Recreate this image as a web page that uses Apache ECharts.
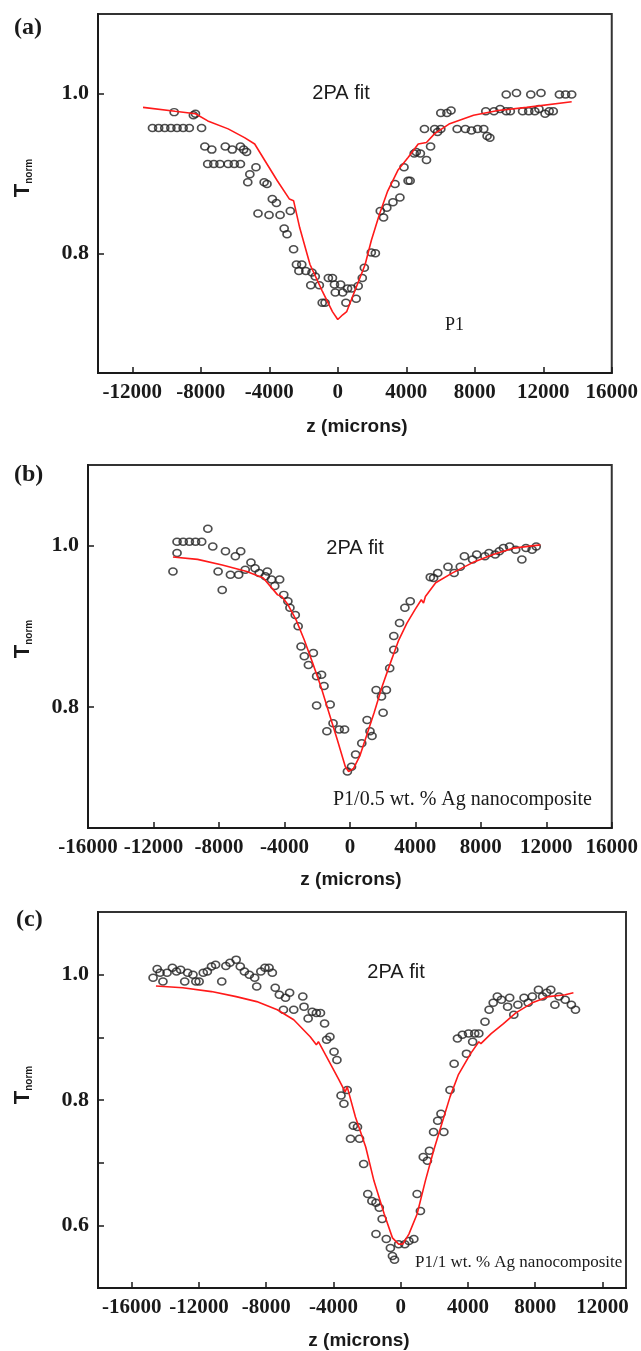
<!DOCTYPE html>
<html>
<head>
<meta charset="utf-8">
<script src="https://cdn.jsdelivr.net/npm/echarts@6/dist/echarts.min.js"></script>
<style>
html,body{margin:0;padding:0;background:#fff;}
#chart{width:641px;height:1351px;}
</style>
</head>
<body>
<div id="chart"></div>
<script>
// ---------- Panel (a): P1 ----------
const p1Points = [
[-10818,0.957],[-10459,0.957],[-10101,0.957],[-9743,0.957],[-9385,0.957],[-9027,0.957],[-8668,0.957],[-7952,0.957],
[-9552,0.977],[-8310,0.975],[-8430,0.973],
[-7761,0.934],[-7355,0.930],[-6567,0.934],[-6161,0.930],[-5683,0.934],[-5492,0.930],
[-7594,0.912],[-7236,0.912],[-6877,0.912],[-6400,0.912],[-6042,0.912],[-5683,0.912],
[-5325,0.927],[-4776,0.908],[-5134,0.899],[-5254,0.889],[-4298,0.889],[-4131,0.887],
[-3821,0.868],[-3582,0.863],[-4657,0.850],[-4012,0.848],[-3367,0.848],[-2770,0.853],
[-3128,0.831],[-2961,0.824],[-2579,0.805],[-2412,0.786],[-2101,0.786],[-2269,0.778],[-1863,0.778],
[-1504,0.776],[-1313,0.771],[-1576,0.760],[-1075,0.760],[-907,0.738],[-740,0.738],
[-549,0.769],[-310,0.769],[-191,0.761],[167,0.761],[-143,0.751],[287,0.751],[478,0.738],
[573,0.756],[812,0.756],[1075,0.743],[1194,0.759],[1433,0.769],[1552,0.782],
[1958,0.801],[2197,0.800],[2484,0.853],[2675,0.845],[2866,0.857],[3224,0.864],
[3343,0.887],[3630,0.870],[3869,0.908],[4107,0.891],[4227,0.891],[4466,0.925],[4585,0.927],[4824,0.925],
[5182,0.917],[5063,0.956],[5421,0.934],[5660,0.956],[5827,0.952],[6018,0.956],
[6018,0.976],[6376,0.976],[6615,0.979],
[6973,0.956],[7451,0.956],[7809,0.954],[8167,0.956],[8525,0.956],[8883,0.945],[8720,0.947],
[8645,0.978],[9122,0.978],[9480,0.981],[9839,0.978],[10078,0.978],
[9839,0.999],[10436,1.001],
[10794,0.978],[11152,0.978],[11510,0.978],[11749,0.981],[12107,0.975],[12346,0.978],[12585,0.978],
[11272,0.999],[11868,1.001],[12943,0.999],[13301,0.999],[13660,0.999]
];
const p1Fit = [
[-11370,0.983],[-9500,0.978],[-8310,0.975],[-7590,0.966],[-6400,0.956],[-5445,0.945],[-4850,0.937],
[-4250,0.916],[-3530,0.891],[-2820,0.868],[-2580,0.866],[-2220,0.832],[-1620,0.786],[-910,0.753],
[-310,0.727],[0,0.717],[290,0.723],[525,0.727],[1000,0.753],[1600,0.786],[1960,0.816],[2435,0.849],
[2915,0.878],[3510,0.904],[4107,0.920],[4700,0.937],[5180,0.939],[5660,0.950],[6495,0.962],
[7930,0.973],[9360,0.979],[11030,0.983],[13660,0.990]
];

// ---------- Panel (b): P1/0.5 wt.% Ag ----------
const p05Points = [
[-10809,0.968],[-10559,0.991],[-10559,1.005],[-10183,1.005],[-9806,1.005],[-9430,1.005],[-9054,1.005],
[-8678,1.021],[-8377,0.999],[-8051,0.968],[-7800,0.945],[-7600,0.993],[-7298,0.964],[-6997,0.987],
[-6670,0.993],[-6795,0.964],[-6394,0.970],[-6044,0.979],[-5793,0.972],[-5542,0.966],[-5166,0.962],
[-5040,0.968],[-4790,0.958],[-4590,0.950],[-4290,0.958],[-4038,0.939],[-3787,0.931],[-3662,0.923],
[-3336,0.914],[-3160,0.900],[-2985,0.875],[-2784,0.863],[-2533,0.852],[-2232,0.867],[-2032,0.838],
[-1731,0.840],[-1580,0.826],[-2032,0.802],[-1204,0.803],[-1404,0.770],[-1028,0.780],[-652,0.772],
[-326,0.772],[-150,0.720],[100,0.726],[351,0.741],[727,0.755],[1053,0.784],[1229,0.770],[1354,0.764],
[1605,0.821],[1931,0.813],[2031,0.793],[2232,0.821],[2433,0.848],[2683,0.871],[2683,0.888],[3035,0.904],
[3361,0.923],[3687,0.931],[5116,0.960],[4915,0.961],[5367,0.966],[5994,0.974],[6370,0.966],[6746,0.974],
[6997,0.987],[7499,0.983],[7750,0.989],[8251,0.987],[8502,0.991],[8878,0.989],[9129,0.993],[9380,0.997],
[9756,0.999],[10132,0.995],[10509,0.983],[10759,0.997],[11135,0.995],[11386,0.999]
];
const p05Fit = [
[-10809,0.986],[-9305,0.983],[-7800,0.976],[-6295,0.968],[-5292,0.960],[-4414,0.939],[-4163,0.937],
[-3787,0.927],[-3285,0.908],[-2784,0.883],[-2282,0.855],[-1781,0.826],[-1279,0.793],[-777,0.760],
[-276,0.726],[-75,0.720],[226,0.724],[602,0.739],[978,0.762],[1480,0.793],[1981,0.826],[2483,0.855],
[2985,0.883],[3486,0.904],[3988,0.921],[4364,0.933],[4500,0.929],[4615,0.937],[5242,0.954],[6245,0.966],
[7499,0.979],[8753,0.989],[10007,0.997],[11637,1.001]
];

// ---------- Panel (c): P1/1 wt.% Ag ----------
const p1wPoints = [
[-14724,0.995],[-14480,1.009],[-14309,1.003],[-14138,0.989],[-13893,1.003],[-13575,1.011],[-13331,1.005],
[-13086,1.008],[-12842,0.989],[-12670,1.003],[-12352,1.000],[-12181,0.989],[-11986,0.989],[-11741,1.003],
[-11497,1.005],[-11252,1.013],[-11007,1.016],[-10640,0.989],[-10395,1.014],[-10151,1.019],[-9784,1.024],
[-9539,1.013],[-9295,1.005],[-9001,1.000],[-8683,0.995],[-8561,0.981],[-8316,1.005],[-8072,1.011],
[-7827,1.011],[-7632,1.003],[-7460,0.979],[-7216,0.968],[-6849,0.963],[-6604,0.971],[-6971,0.944],
[-6360,0.944],[-5821,0.965],[-5748,0.949],[-5503,0.930],[-5259,0.941],[-5014,0.939],[-4770,0.939],
[-4525,0.922],[-4403,0.896],[-4207,0.901],[-3962,0.877],[-3791,0.864],[-3547,0.807],[-3375,0.794],
[-3180,0.816],[-2814,0.759],[-2569,0.757],[-2984,0.738],[-2447,0.738],[-2201,0.698],[-1957,0.650],
[-1712,0.639],[-1468,0.636],[-1272,0.628],[-1101,0.610],[-1468,0.586],[-856,0.578],[-612,0.564],
[-489,0.551],[-367,0.545],[-122,0.570],[245,0.570],[489,0.575],[783,0.578],[978,0.650],[1174,0.623],
[1345,0.709],[1590,0.703],[1712,0.719],[1957,0.749],[2201,0.767],[2397,0.778],[2568,0.749],[2935,0.816],
[3180,0.858],[3376,0.898],[3669,0.904],[3914,0.874],[4036,0.906],[4281,0.893],[4403,0.906],[4648,0.906],
[5014,0.925],[5259,0.944],[5503,0.955],[5748,0.965],[5993,0.960],[6360,0.949],[6482,0.963],[6727,0.936],
[6971,0.952],[7338,0.963],[7582,0.955],[7827,0.965],[8194,0.976],[8438,0.965],[8683,0.971],[8927,0.976],
[9172,0.952],[9417,0.965],[9784,0.960],[10151,0.952],[10395,0.944]
];
const p1wFit = [
[-14553,0.982],[-12964,0.979],[-11252,0.973],[-9784,0.965],[-8561,0.957],[-7338,0.944],[-6360,0.928],
[-5381,0.901],[-5014,0.888],[-4892,0.893],[-4403,0.869],[-3669,0.832],[-3302,0.813],[-3180,0.821],
[-2691,0.773],[-2079,0.725],[-1590,0.671],[-978,0.618],[-489,0.580],[-122,0.570],[122,0.570],[489,0.586],
[978,0.618],[1468,0.671],[1957,0.719],[2446,0.762],[2935,0.805],[3424,0.840],[4158,0.874],[4648,0.893],
[4770,0.890],[5381,0.906],[6115,0.922],[6849,0.939],[7827,0.955],[8805,0.965],[9784,0.968],[10273,0.971]
];

// ---------- tick values ----------
const xTicksA = [-12000,-8000,-4000,0,4000,8000,12000,16000];
const xTicksB = [-16000,-12000,-8000,-4000,0,4000,8000,12000,16000];
const xTicksC = [-16000,-12000,-8000,-4000,0,4000,8000,12000];
const yTicksAB = [0.8,1.0];
const yTickMarksC = [0.6,0.7,0.8,0.9,1.0];
const yLabelsC = [0.6,0.8,1.0];

const panelLetters = ['(a)','(b)','(c)'];
const sampleLabels = ['P1','P1/0.5 wt. % Ag nanocomposite','P1/1 wt. % Ag nanocomposite'];
const fitLabel = '2PA fit';
const xName = 'z (microns)';

const chart = echarts.init(document.getElementById('chart'), null, {renderer:'canvas'});

const ink = '#1a1a1a';
const serifBold = {fontFamily:'Liberation Serif', fontWeight:'bold', color:ink};

function xAxis(gi, min, max, ticks){
  return {
    type:'value', gridIndex:gi, min:min, max:max,
    axisLine:{show:true, onZero:false, lineStyle:{color:ink, width:2}},
    axisTick:{show:true, inside:true, length:6, customValues:ticks, lineStyle:{color:ink, width:1.5}},
    axisLabel:Object.assign({customValues:ticks, margin:9, fontSize:21, formatter:v=>String(v)}, serifBold),
    splitLine:{show:false}
  };
}
function yAxis(gi, min, max, tickVals, labelVals){
  return {
    type:'value', gridIndex:gi, min:min, max:max,
    axisLine:{show:true, onZero:false, lineStyle:{color:ink, width:2}},
    axisTick:{show:true, inside:true, length:6, customValues:tickVals, lineStyle:{color:ink, width:1.5}},
    axisLabel:Object.assign({customValues:labelVals, margin:9, fontSize:22, formatter:v=>v.toFixed(1)}, serifBold),
    splitLine:{show:false}
  };
}
function scatter(i, data){
  return {type:'scatter', xAxisIndex:i, yAxisIndex:i, data:data, symbol:'circle', symbolSize:[8,7],
    itemStyle:{color:'rgba(255,255,255,0)', borderColor:'#222', borderWidth:1.6}, z:2};
}
function fit(i, data){
  return {type:'line', xAxisIndex:i, yAxisIndex:i, data:data, showSymbol:false, smooth:false,
    lineStyle:{color:'#ff1a1a', width:1.6}, z:3};
}
function txt(x, y, text, font, align){
  return {type:'text', x:x, y:y, style:Object.assign({text:text, textAlign:align||'left', textVerticalAlign:'middle', fill:ink}, font)};
}
function tnorm(x, y){
  return {type:'text', x:x, y:y, rotation:Math.PI/2,
    style:{text:'{T|T}{s|norm}', textAlign:'center', textVerticalAlign:'middle', fill:ink,
      rich:{
        T:{fontFamily:'Liberation Sans', fontWeight:'bold', fontSize:22, fill:ink, lineHeight:22},
        s:{fontFamily:'Liberation Sans', fontWeight:'bold', fontSize:10, fill:ink, lineHeight:10, verticalAlign:'bottom'}
      }}};
}
const nameFont = {font:'bold 19px "Liberation Sans"'};

const option = {
  animation:false,
  backgroundColor:'#fff',
  grid:[
    {left:98, top:14, width:518, height:359, show:true, borderColor:'#333', borderWidth:2, containLabel:false},
    {left:88, top:465, width:527, height:363, show:true, borderColor:'#333', borderWidth:2, containLabel:false},
    {left:98, top:912, width:528, height:376, show:true, borderColor:'#333', borderWidth:2, containLabel:false}
  ],
  xAxis:[
    xAxis(0, -14000, 16000, xTicksA),
    xAxis(1, -16000, 16000, xTicksB),
    xAxis(2, -18000, 13400, xTicksC)
  ],
  yAxis:[
    yAxis(0, 0.65, 1.1, yTicksAB, yTicksAB),
    yAxis(1, 0.65, 1.1, yTicksAB, yTicksAB),
    yAxis(2, 0.5, 1.1, yTickMarksC, yLabelsC)
  ],
  series:[
    scatter(0, p1Points), fit(0, p1Fit),
    scatter(1, p05Points), fit(1, p05Fit),
    scatter(2, p1wPoints), fit(2, p1wFit)
  ],
  graphic:[
    txt(14, 28, panelLetters[0], {font:'bold 24px "Liberation Serif"'}),
    txt(14, 475, panelLetters[1], {font:'bold 24px "Liberation Serif"'}),
    txt(16, 920, panelLetters[2], {font:'bold 24px "Liberation Serif"'}),
    tnorm(23, 178), tnorm(23, 639), tnorm(23, 1085),
    txt(357, 427, xName, nameFont, 'center'),
    txt(351, 880, xName, nameFont, 'center'),
    txt(359, 1341, xName, nameFont, 'center'),
    txt(341, 93, fitLabel, {font:'20px "Liberation Sans"'}, 'center'),
    txt(355, 548, fitLabel, {font:'20px "Liberation Sans"'}, 'center'),
    txt(396, 972, fitLabel, {font:'20px "Liberation Sans"'}, 'center'),
    txt(445, 325, sampleLabels[0], {font:'18px "Liberation Serif"'}),
    txt(333, 800, sampleLabels[1], {font:'20px "Liberation Serif"'}),
    txt(415, 1263, sampleLabels[2], {font:'17px "Liberation Serif"'})
  ]
};
chart.setOption(option);
</script>
</body>
</html>
